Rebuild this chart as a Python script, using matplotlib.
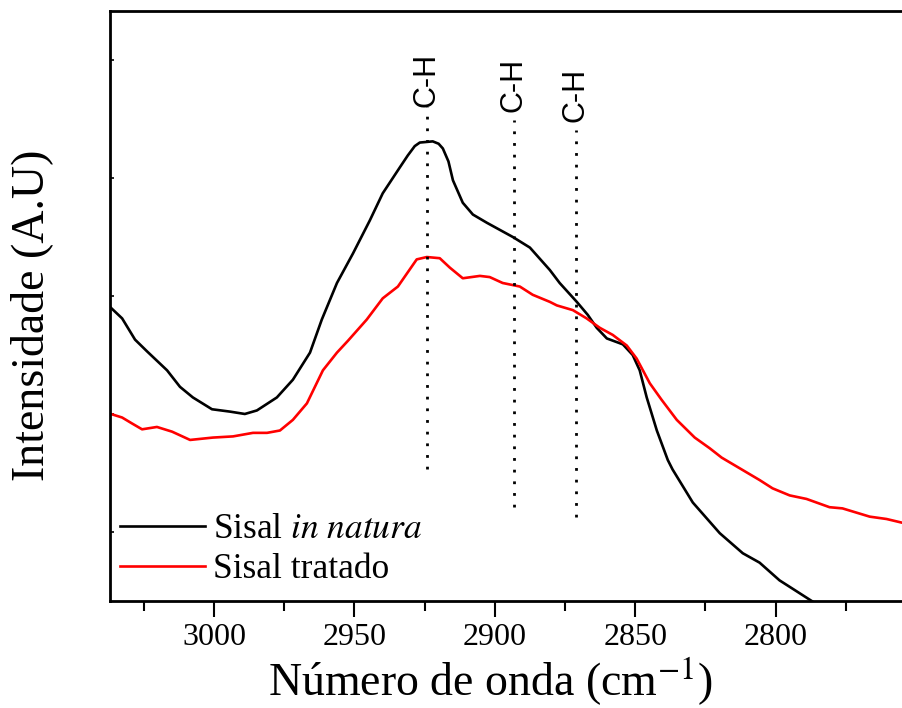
import matplotlib
matplotlib.use("Agg")
import matplotlib.pyplot as plt

plt.rcParams["font.family"] = ["Liberation Serif", "DejaVu Serif"]
plt.rcParams["mathtext.fontset"] = "stix"

# Sisal in natura (black)
nat_x = [3036.7, 3032.7, 3028.1, 3023.8, 3016.7, 3012.1, 3007.5, 3000.7, 2994.3, 2989.0,
         2984.7, 2977.6, 2971.9, 2965.8, 2961.6, 2956.2, 2950.5, 2944.5, 2939.9, 2933.8,
         2931.0, 2928.5, 2926.7, 2922.1, 2920.0, 2918.5, 2916.5, 2914.9, 2911.4, 2907.8,
         2902.8, 2898.2, 2893.6, 2887.5, 2880.4, 2876.9, 2870.8, 2866.9, 2863.7, 2860.1,
         2854.4, 2850.9, 2848.4, 2845.9, 2842.3, 2838.4, 2836.7, 2829.5, 2819.9, 2811.7,
         2805.7, 2798.6, 2794.0, 2786.8]
nat_y = [1.90, 1.81, 1.63, 1.53, 1.37, 1.23, 1.14, 1.04, 1.02, 1.00,
         1.03, 1.14, 1.29, 1.52, 1.80, 2.11, 2.36, 2.64, 2.87, 3.09,
         3.19, 3.27, 3.30, 3.31, 3.29, 3.25, 3.14, 2.98, 2.79, 2.69,
         2.62, 2.56, 2.50, 2.41, 2.22, 2.11, 1.95, 1.84, 1.73, 1.64,
         1.59, 1.50, 1.37, 1.14, 0.86, 0.61, 0.53, 0.25, -0.01, -0.18,
         -0.26, -0.41, -0.48, -0.59]

# Sisal tratado (red)
trat_x = [3036.7, 3032.7, 3029.2, 3025.6, 3020.3, 3014.9, 3008.5, 3000.4, 2993.2, 2986.1,
          2981.1, 2976.5, 2971.9, 2966.9, 2961.2, 2956.2, 2952.3, 2945.6, 2939.9, 2934.5,
          2927.8, 2924.2, 2919.6, 2916.0, 2911.4, 2905.3, 2901.8, 2897.2, 2891.1, 2886.5,
          2880.4, 2877.9, 2872.2, 2867.3, 2862.6, 2858.0, 2853.0, 2849.5, 2844.8, 2840.6,
          2835.2, 2828.8, 2823.5, 2819.2, 2812.8, 2805.7, 2801.1, 2795.0, 2789.0, 2780.8,
          2776.2, 2766.5, 2760.5, 2755.2]
trat_y = [1.00, 0.97, 0.92, 0.87, 0.89, 0.85, 0.78, 0.80, 0.81, 0.84,
          0.84, 0.86, 0.95, 1.09, 1.37, 1.52, 1.62, 1.80, 1.98, 2.08,
          2.31, 2.33, 2.32, 2.24, 2.15, 2.17, 2.16, 2.11, 2.08, 2.01,
          1.95, 1.92, 1.88, 1.81, 1.73, 1.67, 1.58, 1.47, 1.26, 1.12,
          0.95, 0.80, 0.71, 0.63, 0.54, 0.44, 0.37, 0.31, 0.28, 0.21,
          0.20, 0.13, 0.11, 0.08]

# C-H band markers: position, line top, line bottom
band_x = [2924.2, 2893.2, 2871.2]
band_top = [3.60, 3.49, 3.41]
band_bottom = [0.53, 0.21, 0.13]
band_text_y = [3.60, 3.56, 3.47]
band_label = "C-H"

fig = plt.figure(figsize=(9.02, 7.08), dpi=100)
ax = fig.add_axes([0.122, 0.1511, 0.878, 0.8334])

ax.plot(nat_x, nat_y, color="black", lw=1.9, label=r"Sisal $\mathit{in\ natura}$")
ax.plot(trat_x, trat_y, color="#ff0000", lw=1.9, label="Sisal tratado")

for bx, top, bot, ty in zip(band_x, band_top, band_bottom, band_text_y):
    ax.plot([bx, bx], [bot, top], color="black", lw=2.0, dashes=(1, 3.2),
            dash_capstyle="butt")
    ax.text(bx, ty, band_label, rotation=90, ha="center", va="bottom",
            fontsize=22, family=["Liberation Sans", "DejaVu Sans"])

ax.set_xlim(3037, 2755)
ax.set_ylim(-0.585, 4.415)
ax.set_xticks([3000, 2950, 2900, 2850, 2800])
ax.set_xticks([3025, 2975, 2925, 2875, 2825, 2775], minor=True)
ax.set_yticks([0, 1, 2, 3, 4])
ax.set_yticklabels([])

ax.tick_params(axis="x", which="major", direction="out", length=11.5, width=1.5,
               labelsize=23, pad=4)
ax.tick_params(axis="x", which="minor", direction="out", length=7.5, width=1.5)
ax.tick_params(axis="y", which="major", direction="in", length=3, width=1.2)
ax.tick_params(top=False, right=False)

for side in ["left", "bottom", "top"]:
    ax.spines[side].set_linewidth(2.0)
ax.spines["right"].set_visible(False)

ax.set_xlabel(r"Número de onda (cm$^{\mathrm{-1}}$)", fontsize=33)
ax.xaxis.set_label_coords((490 - 110) / 792, -0.092)
ax.set_ylabel("Intensidade (A.U)", fontsize=33)
ax.yaxis.set_label_coords(-0.072, 0.485)

ax.legend(loc="lower left", bbox_to_anchor=(0.012, 0.025), frameon=False,
          fontsize=25.5, handlelength=2.4, handletextpad=0.25, labelspacing=0.2,
          borderpad=0, borderaxespad=0)

fig.savefig("out.png", dpi=100)
